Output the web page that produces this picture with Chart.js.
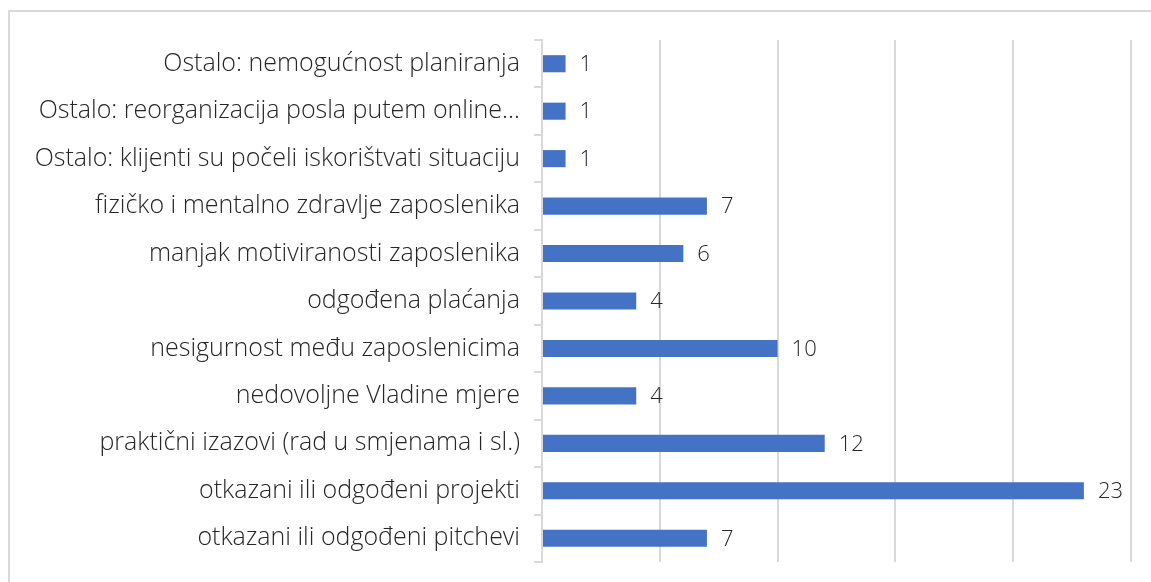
<!DOCTYPE html>
<html>
<head>
<meta charset="utf-8">
<script src="https://cdn.jsdelivr.net/npm/chart.js@4/dist/chart.umd.min.js"></script>
<style>
  html, body { margin: 0; padding: 0; background: #fff; }
  body { width: 1151px; height: 582px; overflow: hidden; position: relative; }
  #frame { position: absolute; left: 8px; top: 10px; width: 1160px; height: 600px;
           border-top: 2px solid #d9d9d9; border-left: 2px solid #d9d9d9; box-sizing: border-box; }
  #wrap { position: absolute; left: 0; top: 0; width: 1151px; height: 582px; }
</style>
</head>
<body>
<div id="frame"></div>
<div id="wrap"><canvas id="c" width="1151" height="582"></canvas></div>
<script>
const categories = [
  "Ostalo: nemogućnost planiranja",
  "Ostalo: reorganizacija posla putem online…",
  "Ostalo: klijenti su počeli iskorištvati situaciju",
  "fizičko i mentalno zdravlje zaposlenika",
  "manjak motiviranosti zaposlenika",
  "odgođena plaćanja",
  "nesigurnost među zaposlenicima",
  "nedovoljne Vladine mjere",
  "praktični izazovi (rad u smjenama i sl.)",
  "otkazani ili odgođeni projekti",
  "otkazani ili odgođeni pitchevi"
];
const values = [1, 1, 1, 7, 6, 4, 10, 4, 12, 23, 7];
const axisMin = 0;
const axisMax = 25;
const axisStep = 5;

const FONT = "'Open Sans', Lato, sans-serif";

const valueLabels = {
  id: 'valueLabels',
  afterDatasetsDraw(chart) {
    const ctx = chart.ctx;
    const meta = chart.getDatasetMeta(0);
    ctx.save();
    ctx.font = "300 22px " + FONT;
    ctx.fillStyle = "#262626";
    ctx.textBaseline = "middle";
    ctx.textAlign = "left";
    meta.data.forEach((bar, i) => {
      ctx.fillText(String(chart.data.datasets[0].data[i]), bar.x + 14, bar.y + 1);
    });
    ctx.restore();
  }
};

new Chart(document.getElementById('c'), {
  type: 'bar',
  data: {
    labels: categories,
    datasets: [{
      data: values,
      backgroundColor: '#4472C4',
      borderWidth: 0,
      barPercentage: 0.36,
      categoryPercentage: 1.0
    }]
  },
  options: {
    indexAxis: 'y',
    responsive: false,
    animation: false,
    layout: { padding: { left: 0, right: 20, top: 40, bottom: 20 } },
    plugins: { legend: { display: false }, tooltip: { enabled: false } },
    scales: {
      x: {
        min: axisMin, max: axisMax,
        afterFit(scale) { scale.height = 0; },
        ticks: { display: false, stepSize: axisStep },
        grid: { color: '#d9d9d9', lineWidth: 2, drawTicks: false },
        border: { display: false }
      },
      y: {
        afterFit(scale) { scale.width = 542; scale.paddingTop = 0; scale.paddingBottom = 0; },
        ticks: { color: '#262626', font: { family: FONT, size: 25, weight: '300' }, padding: 14, autoSkip: false },
        grid: { color: '#d9d9d9', lineWidth: 2, drawOnChartArea: false, drawTicks: true, tickLength: 8, offset: true },
        border: { display: true, color: '#d9d9d9', width: 2 }
      }
    }
  },
  plugins: [valueLabels]
});
</script>
</body>
</html>
